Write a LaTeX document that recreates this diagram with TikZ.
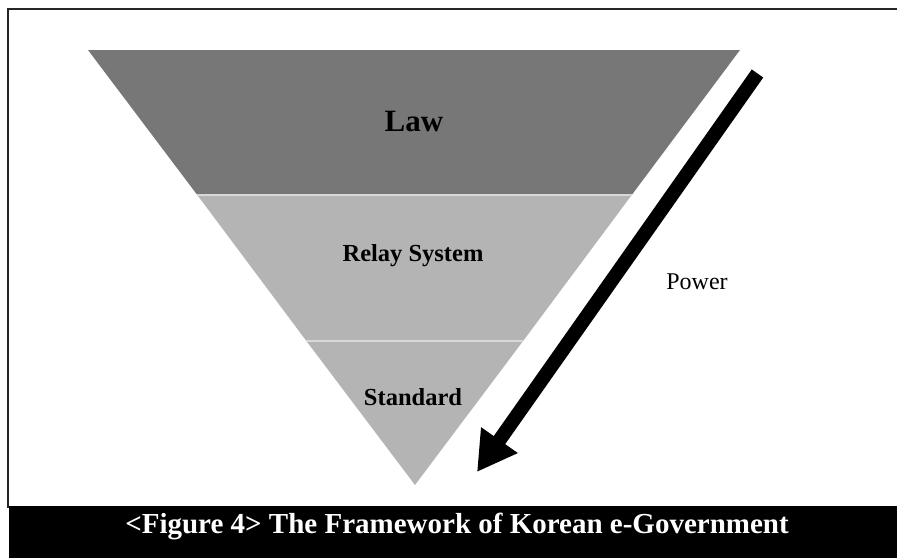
\documentclass[tikz,border=0pt]{standalone}
\usepackage{fontspec}
\setmainfont{Liberation Serif}
\usetikzlibrary{arrows.meta}
\definecolor{lawgray}{HTML}{777777}
\definecolor{lowgray}{HTML}{B4B4B4}
\definecolor{sepgray}{HTML}{D8D8D8}
\tikzset{
  bandlabel/.style={anchor=base, inner sep=0pt, font=\bfseries\fontsize{24.5}{24.5}\selectfont, text=black},
  framelinestyle/.style={line width=2pt, draw=black!85},
  sepline/.style={line width=1.5pt, draw=sepgray},
  powerarrow/.style={line width=14pt, draw=black, -{Triangle[length=39pt,width=42pt]}}
}
\begin{document}
\begin{tikzpicture}[x=1pt,y=-1pt]
\useasboundingbox (0,0) rectangle (897,558);
% frame
\draw[framelinestyle] (8,508) -- (8,9) -- (897,9);
% caption bar
\fill[black] (9,506) rectangle (897,558);
\node[anchor=base, inner sep=0pt, text=white, font=\bfseries\fontsize{29}{29}\selectfont] (caption) at (457,533) {<Figure 4> The Framework of Korean e-Government};
% triangle bands
\fill[lawgray] (88,50) -- (740,50) -- (631.7,195) -- (197.3,195) -- cycle;
\fill[lowgray] (197.3,195) -- (631.7,195) -- (523.1,341) -- (306.4,341) -- cycle;
\fill[lowgray] (306.4,341) -- (523.1,341) -- (415,485) -- cycle;
\draw[sepline] (197.3,195) -- (631.7,195);
\draw[sepline] (306.4,341) -- (523.1,341);
% labels
\node[bandlabel, font=\bfseries\fontsize{31}{31}\selectfont] (law) at (414,131) {Law};
\node[bandlabel] (relay) at (413,261) {Relay System};
\node[bandlabel] (standard) at (413,405) {Standard};
\node[anchor=base, inner sep=0pt, font=\fontsize{24}{24}\selectfont] (power) at (697,289) {Power};
% arrow
\coordinate (arrowstart) at (757.5,73.5);
\coordinate (arrowtip) at (477,472);
\draw[powerarrow] (arrowstart) -- (arrowtip);
\end{tikzpicture}
\end{document}
